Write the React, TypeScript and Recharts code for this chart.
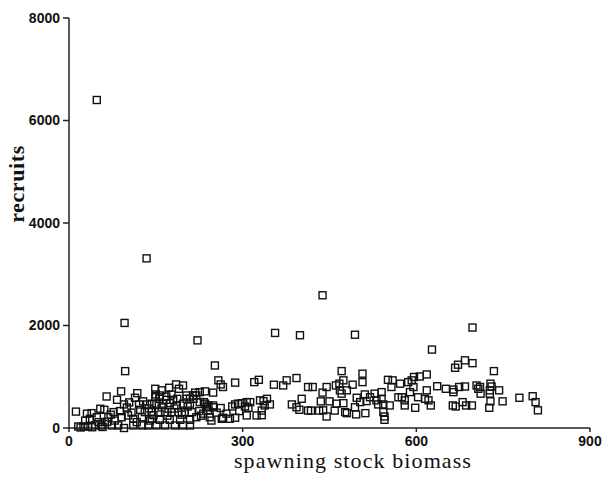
import React from "react";
import { ScatterChart, Scatter, XAxis, YAxis } from "recharts";

// spawning stock biomass (x) and recruits (y)
const biomass = [
  48, 134, 96, 97, 222, 438, 356, 399, 494, 697, 627, 252,
  12, 65, 90, 83, 95, 118, 114, 121, 135, 149, 160, 173, 190, 197, 168, 180, 187, 203, 54, 156,
  258, 262, 266, 287, 320, 328, 354, 370, 376, 393, 413, 218, 235, 249, 209, 215, 233, 241, 249,
  287, 292, 298, 307, 313, 304, 310, 330, 336, 342, 347, 338, 333, 307, 324, 333, 246, 266, 278,
  287, 209, 385, 393, 398, 402, 413,
  471, 507, 507, 421, 438, 445, 461, 467, 474, 468, 471, 490, 480, 435, 450, 432, 439, 445, 418,
  459, 462, 474, 477, 480, 494, 497, 503, 511, 514, 520, 528, 531, 540, 540, 534, 543, 554, 543,
  545, 545, 512, 496, 551, 559, 557, 572, 575, 569, 580, 586, 592, 596, 606, 618, 595, 589, 603,
  598, 580, 618, 621,
  667, 672, 684, 697, 734, 636, 651, 664, 664, 674, 684, 704, 710, 707, 711, 728, 730, 727, 727,
  743, 778, 801, 806, 810, 749, 728, 726, 663, 668, 680, 686, 696, 625, 615,
  61, 31, 39, 77, 123, 131, 28, 36, 48, 68, 79, 91, 102, 111, 126, 140, 16, 25, 33, 45, 56, 74,
  85, 95, 111, 126, 137, 51, 62, 117,
  149, 185, 226, 214, 220, 203, 150, 157, 168, 177, 143, 151, 163, 174, 186, 197, 209, 226, 235,
  238, 249, 143, 154, 166, 177, 189, 200, 212, 225, 232, 143, 157, 174, 192, 209, 220, 243, 264,
  151, 166, 183, 197,
  20, 40, 58, 66, 72, 88, 100, 108, 104, 128, 138, 146, 160, 170, 182, 195, 205, 228, 240, 255,
  262, 272, 282, 294,
];

const recruits = [
  6400, 3310, 2050, 1110, 1710, 2590, 1855, 1810, 1820, 1960, 1530, 1220,
  320, 615, 715, 550, 460, 680, 590, 460, 460, 600, 735, 785, 765, 830, 550, 550, 570, 570, 375, 570,
  930, 850, 800, 885, 895, 940, 845, 830, 930, 975, 800, 690, 715, 690, 570, 570, 505, 440, 405,
  460, 475, 485, 505, 505, 420, 395, 540, 525, 570, 460, 440, 340, 245, 245, 250, 145, 200, 180,
  200, 50, 460, 405, 355, 570, 340,
  1110, 1060, 895, 800, 690, 800, 830, 865, 930, 735, 670, 845, 735, 520, 520, 340, 345, 225, 340,
  340, 475, 485, 310, 290, 405, 590, 505, 655, 525, 600, 670, 540, 700, 570, 460, 460, 440, 310,
  225, 160, 290, 265, 940, 930, 800, 865, 600, 600, 540, 895, 930, 995, 1005, 1045, 800, 700, 600,
  395, 440, 735, 540,
  1175, 1235, 1320, 1265, 1110, 815, 765, 750, 700, 800, 810, 830, 800, 765, 670, 865, 810, 735, 670,
  735, 590, 620, 505, 345, 520, 520, 395, 440, 420, 505, 440, 440, 440, 570,
  355, 280, 290, 310, 355, 310, 145, 180, 210, 210, 145, 210, 245, 180, 210, 145, 30, 30, 30, 50, 50, 50,
  50, 0, 50, 50, 50, 115, 115, 115,
  765, 850, 700, 635, 635, 635, 655, 635, 615, 655, 475, 475, 475, 485, 440, 475, 475, 505, 475,
  405, 440, 310, 310, 310, 310, 310, 310, 310, 330, 280, 180, 160, 160, 160, 160, 210, 210, 180,
  50, 50, 50, 50,
  10, 15, 20, 120, 260, 330, 400, 300, 500, 520, 380, 250, 400, 240, 380, 260, 420, 240, 340, 300,
  390, 280, 420, 330,
];

const xTicks = [0, 300, 600, 900];
const yTicks = [0, 2000, 4000, 6000, 8000];

const points = biomass.map((b, i) => ({ biomass: b, recruits: recruits[i] }));

const tickStyle = {
  fontSize: 14,
  fontWeight: "bold",
  fill: "#111",
  fontFamily: "'Liberation Sans', Arial, sans-serif",
};

const axisStroke = { stroke: "#222", strokeWidth: 1.5 };

const OpenSquare = (props: any) => {
  const { cx, cy } = props;
  if (cx == null || cy == null) return null;
  return (
    <rect
      x={cx - 3.5}
      y={cy - 3.5}
      width={7}
      height={7}
      fill="none"
      stroke="#111"
      strokeWidth={1.4}
    />
  );
};

const serif = "'Liberation Serif', 'Times New Roman', serif";

export default function App() {
  return (
    <div style={{ position: "absolute", left: 0, top: 0, width: 602, height: 478, background: "#fff" }}>
      <ScatterChart width={602} height={478} margin={{ top: 18, right: 12, bottom: 0, left: 0 }}>
        <XAxis
          type="number"
          dataKey="biomass"
          domain={[0, 900]}
          ticks={xTicks}
          interval={0}
          height={50}
          tick={tickStyle}
          tickSize={4}
          tickMargin={4}
          axisLine={axisStroke}
          tickLine={axisStroke}
          label={{
            content: () => (
              <text
                x={353}
                y={468}
                textAnchor="middle"
                fontFamily={serif}
                fontSize={22}
                letterSpacing={1.1}
                fill="#111"
              >
                spawning stock biomass
              </text>
            ),
          }}
        />
        <YAxis
          type="number"
          dataKey="recruits"
          domain={[0, 8000]}
          ticks={yTicks}
          interval={0}
          width={69}
          tick={tickStyle}
          tickSize={6}
          tickMargin={3}
          axisLine={axisStroke}
          tickLine={axisStroke}
          label={{
            content: () => (
              <text
                x={24}
                y={184}
                transform="rotate(-90 24 184)"
                textAnchor="middle"
                fontFamily={serif}
                fontSize={22}
                fontWeight="bold"
                letterSpacing={0.6}
                fill="#111"
              >
                recruits
              </text>
            ),
          }}
        />
        <Scatter data={points} shape={OpenSquare} isAnimationActive={false} />
      </ScatterChart>
    </div>
  );
}
